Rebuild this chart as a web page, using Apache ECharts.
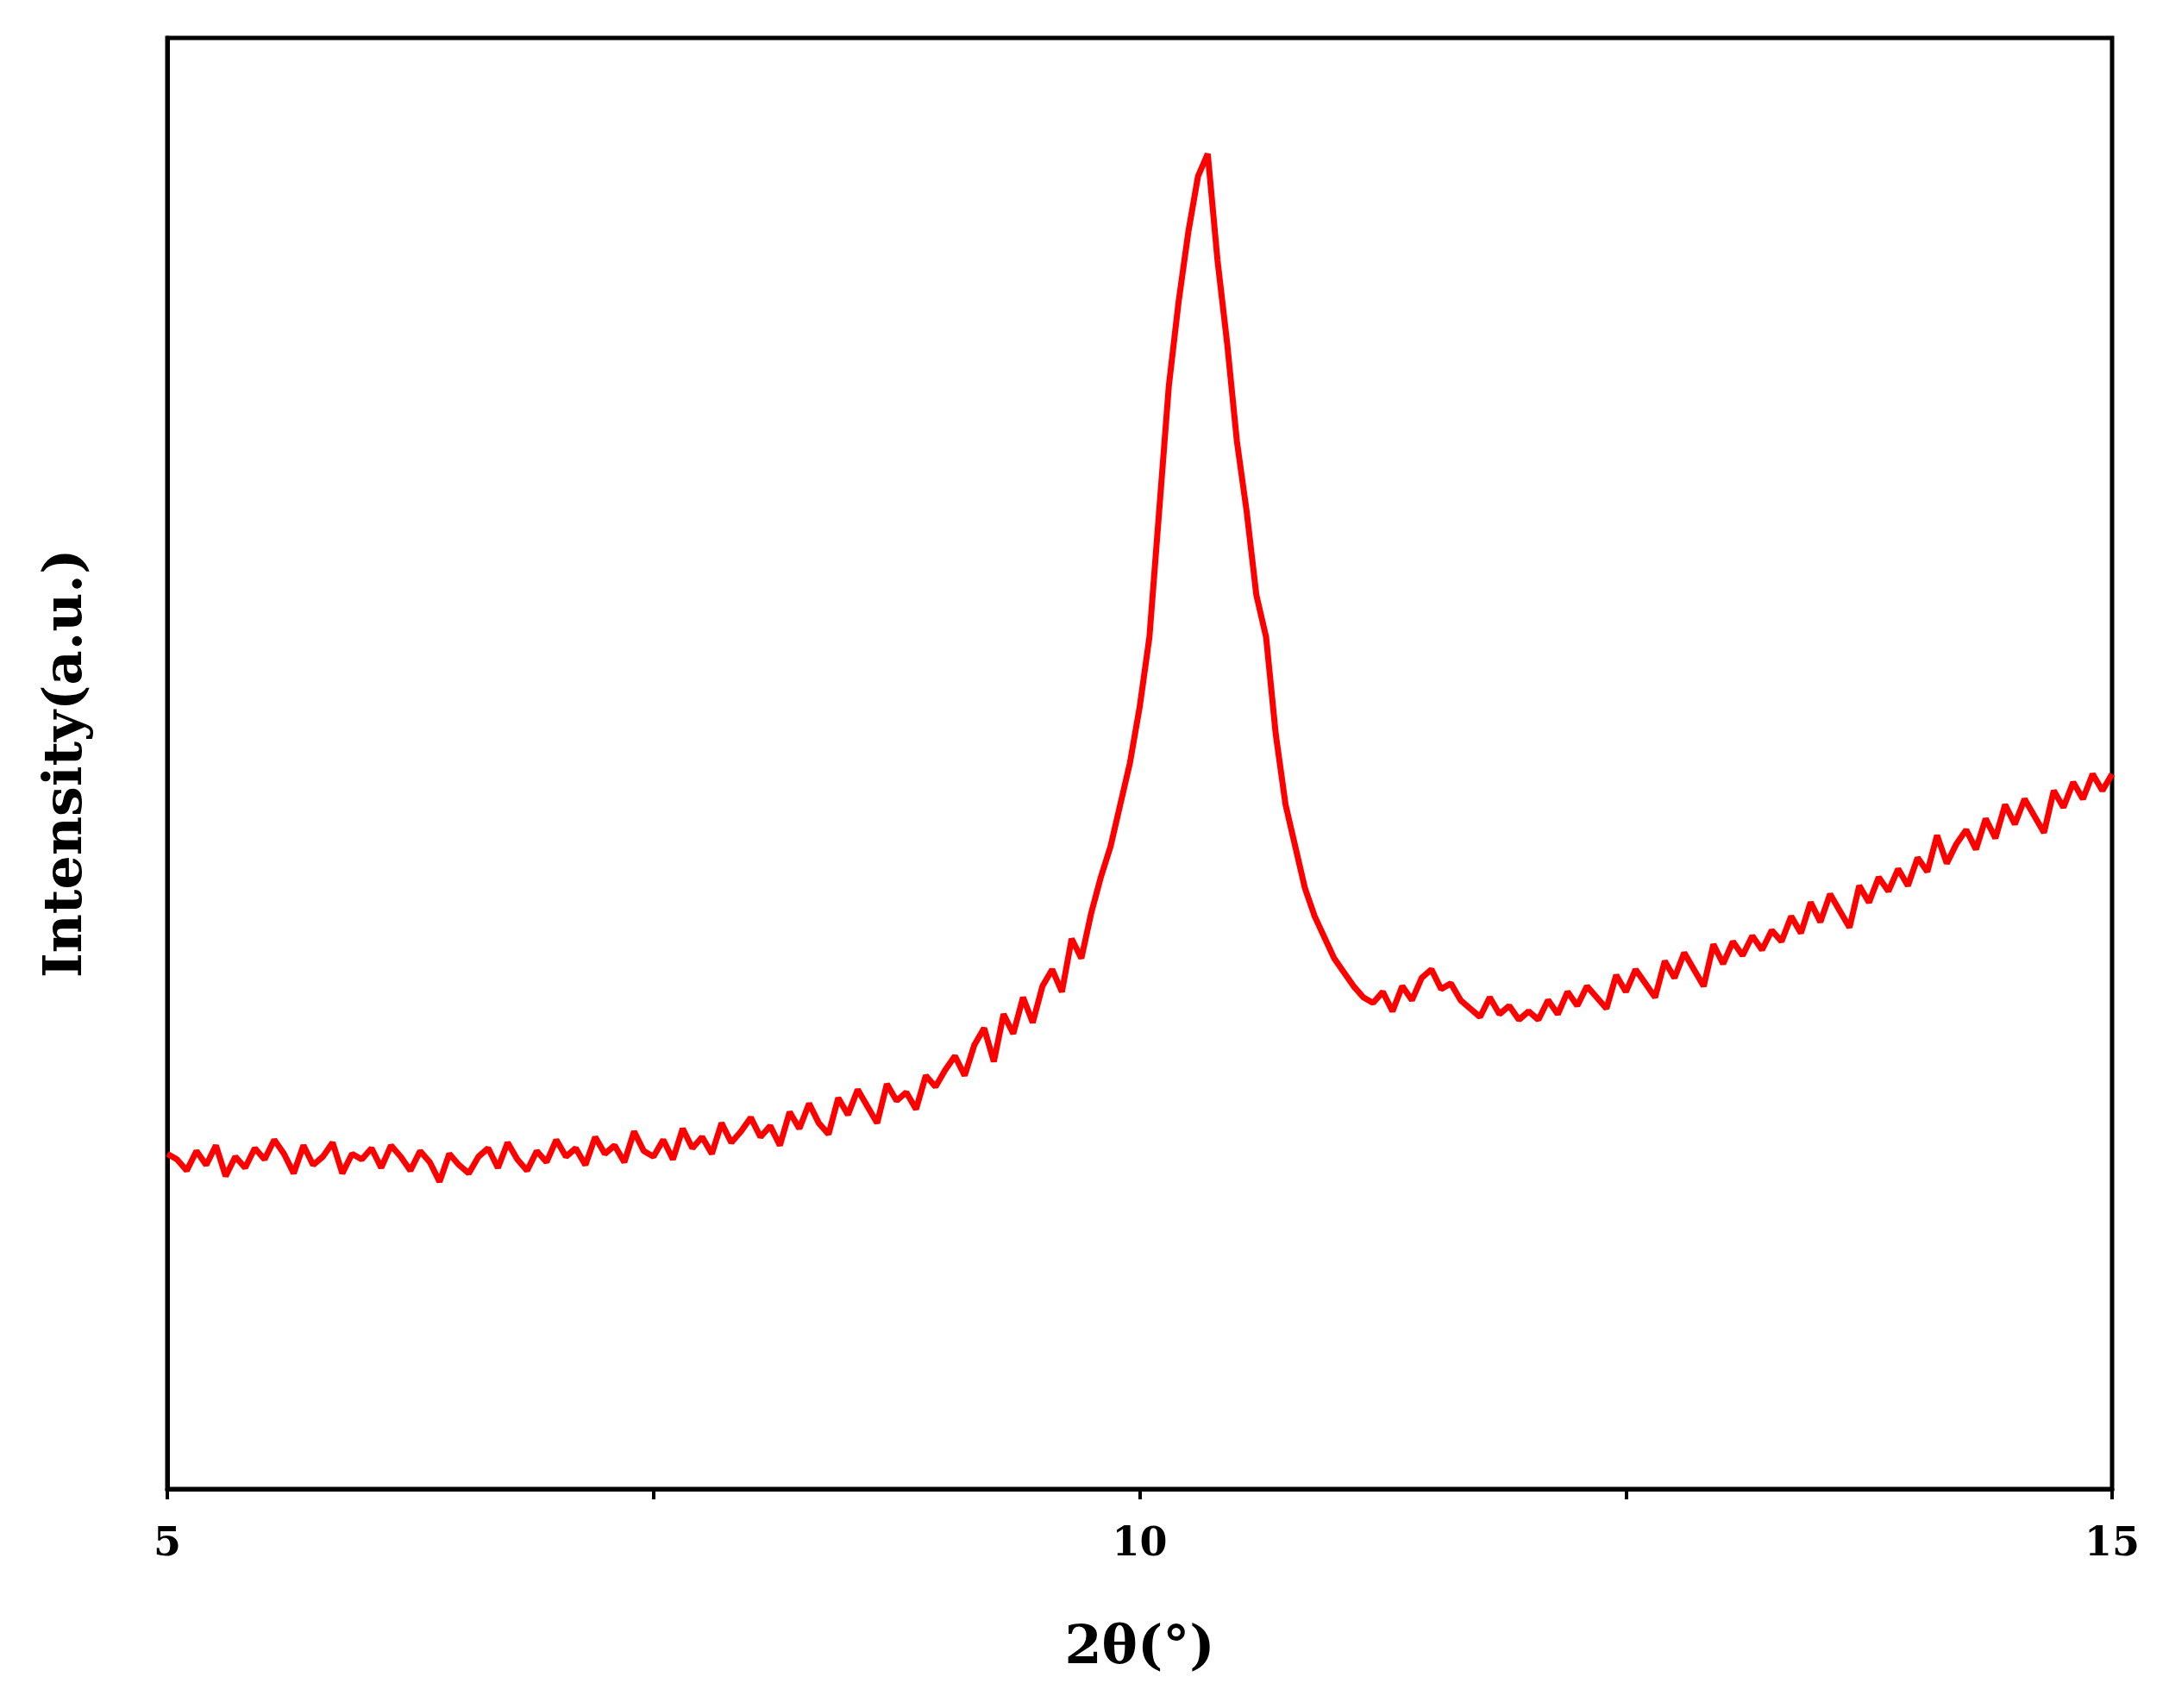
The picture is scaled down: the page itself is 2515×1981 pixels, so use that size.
<!DOCTYPE html>
<html><head><meta charset="utf-8">
<script src="https://cdn.jsdelivr.net/npm/echarts@6/dist/echarts.min.js"></script>
<style>html,body{margin:0;padding:0;background:#fff}#c{width:2515px;height:1981px}</style>
</head><body><div id="c"></div>
<script>
const xStart = 5, xStep = 0.05;
const intensity = [
240,236,228,242,232,246,224,238,230,244,236,250,240,226,246,232,238,248,226,240,
236,244,230,246,238,228,242,234,220,240,232,226,238,244,230,248,236,228,242,234,
250,238,244,232,252,240,246,234,256,242,238,250,236,258,244,252,240,262,248,256,
266,252,260,246,270,258,276,262,254,280,268,286,274,262,290,278,284,272,296,288,
300,310,296,318,330,306,340,326,352,334,360,372,356,394,380,412,438,460,490,520,
560,610,700,790,850,900,940,956,880,820,750,700,640,610,540,490,460,430,410,395,
380,370,360,352,348,356,342,360,350,366,372,358,362,350,344,338,352,340,346,336,
342,336,350,340,356,346,360,352,344,368,356,372,362,352,378,366,384,372,360,390,
376,392,382,396,386,400,392,410,398,420,406,426,414,402,432,420,438,428,444,432,
452,442,468,448,462,472,458,480,466,490,476,494,482,470,500,488,506,494,512,500,
512];
const xLabels = [5, 10, 15];
const data = intensity.map((v, i) => [+(xStart + i * xStep).toFixed(2), v]);
const chart = echarts.init(document.getElementById('c'));
const font = '"DejaVu Serif", serif';
chart.setOption({
  animation: false,
  grid: {left: 194, right: 66, top: 44, bottom: 254, show: true, borderColor: '#000', borderWidth: 5},
  xAxis: {
    type: 'value', min: 5, max: 15, interval: 2.5,
    axisLine: {lineStyle: {color: '#000', width: 5}},
    axisTick: {show: true, length: 12, lineStyle: {color: '#000', width: 4}},
    splitLine: {show: false},
    axisLabel: {color: '#000', fontFamily: font, fontWeight: 'bold', fontSize: 46, margin: 42,
      formatter: v => xLabels.includes(v) ? String(v) : ''},
    name: '2θ(°)', nameLocation: 'middle', nameGap: 155,
    nameTextStyle: {color: '#000', fontFamily: font, fontWeight: 'bold', fontSize: 62}
  },
  yAxis: {
    type: 'value', min: 0, max: 1039,
    axisLine: {show: true, lineStyle: {color: '#000', width: 5}},
    axisTick: {show: false}, axisLabel: {show: false}, splitLine: {show: false},
    name: 'Intensity(a.u.)', nameLocation: 'middle', nameGap: 85,
    nameTextStyle: {color: '#000', fontFamily: font, fontWeight: 'bold', fontSize: 62}
  },
  series: [{type: 'line', data: data, showSymbol: false, lineStyle: {color: '#ff0000', width: 7}}]
});
</script></body></html>
